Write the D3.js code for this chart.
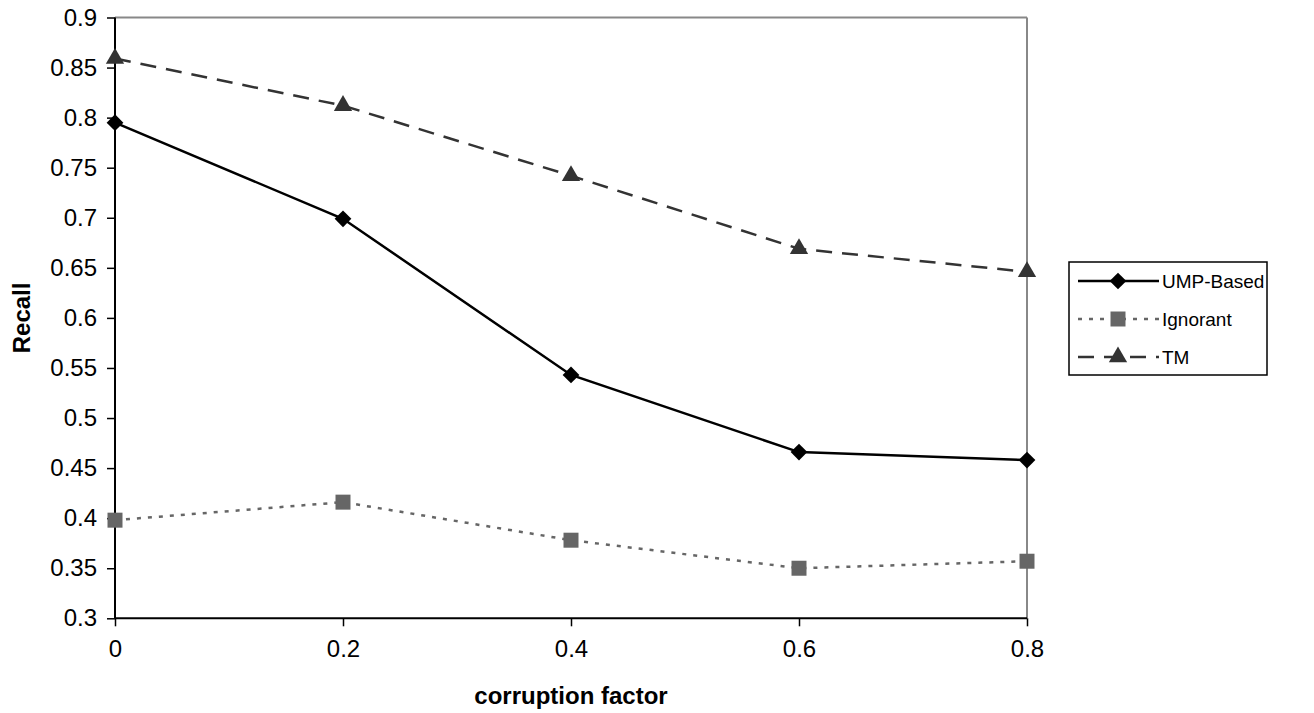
<!DOCTYPE html>
<html>
<head>
<meta charset="utf-8">
<script src="https://cdn.jsdelivr.net/npm/d3@7"></script>
<style>
  html, body { margin: 0; padding: 0; background: #fff; }
  svg { display: block; font-family: "Liberation Sans", Arial, sans-serif; }
</style>
</head>
<body>
<svg id="chart" width="1314" height="713"></svg>
<script>
const xValues = [0, 0.2, 0.4, 0.6, 0.8];
const umpBased = [0.795, 0.699, 0.543, 0.466, 0.458];
const ignorant = [0.398, 0.416, 0.378, 0.350, 0.357];
const tm = [0.859, 0.812, 0.742, 0.669, 0.646];
const yTicks = [0.3, 0.35, 0.4, 0.45, 0.5, 0.55, 0.6, 0.65, 0.7, 0.75, 0.8, 0.85, 0.9];
const xTicks = [0, 0.2, 0.4, 0.6, 0.8];
const seriesNames = ["UMP-Based", "Ignorant", "TM"];

const svg = d3.select("#chart");
const L = 115, R = 1027, T = 17.5, B = 618.3;
const x = d3.scaleLinear().domain([0, 0.8]).range([L, R]);
const y = d3.scaleLinear().domain([0.3, 0.9]).range([B, T]);

// frame (top/right gray)
svg.append("line").attr("x1", L).attr("x2", R).attr("y1", T).attr("y2", T).attr("stroke", "#888").attr("stroke-width", 2);
svg.append("line").attr("x1", R).attr("x2", R).attr("y1", T).attr("y2", B).attr("stroke", "#888").attr("stroke-width", 2);

// axes
const yAxis = d3.axisLeft(y).tickValues(yTicks).tickFormat(d => String(+d.toFixed(2))).tickSize(8).tickPadding(10);
const gy = svg.append("g").attr("transform", `translate(${L},0)`).call(yAxis);
const xAxis = d3.axisBottom(x).tickValues(xTicks).tickFormat(d => String(+d.toFixed(1))).tickSize(8).tickPadding(14);
const gx = svg.append("g").attr("transform", `translate(0,${B})`).call(xAxis);
[gx, gy].forEach(g => {
  g.select(".domain").attr("stroke", "#000").attr("stroke-width", 2);
  g.selectAll(".tick line").attr("stroke", "#000").attr("stroke-width", 1.5);
  g.selectAll("text").attr("font-size", 24).attr("fill", "#000").attr("font-family", "Liberation Sans, Arial, sans-serif");
});
gx.selectAll(".domain").attr("d", `M${L},0H${R}`);
gy.selectAll(".domain").attr("d", `M0,${B}V${T}`);

// axis titles
svg.append("text").attr("x", (L + R) / 2).attr("y", 704).attr("text-anchor", "middle")
  .attr("font-size", 24).attr("font-weight", "bold").text("corruption factor");
svg.append("text").attr("transform", `translate(30,${(T + B) / 2}) rotate(-90)`).attr("text-anchor", "middle")
  .attr("font-size", 24).attr("font-weight", "bold").text("Recall");

const series = [
  { name: seriesNames[0], values: umpBased, color: "#000", dash: null, width: 2.5, sym: d3.symbolSquare, symSize: 140, rot: 45 },
  { name: seriesNames[1], values: ignorant, color: "#666", dash: "4,7", width: 2.5, sym: d3.symbolSquare, symSize: 225, rot: 0 },
  { name: seriesNames[2], values: tm, color: "#333", dash: "16,10", width: 2.5, sym: d3.symbolTriangle, symSize: 145, rot: 0 }
];

const line = d3.line().x((d, i) => x(xValues[i])).y(d => y(d));
series.forEach(s => {
  svg.append("path").datum(s.values).attr("d", line).attr("fill", "none")
    .attr("stroke", s.color).attr("stroke-width", s.width).attr("stroke-dasharray", s.dash);
  svg.selectAll(null).data(s.values).enter().append("path")
    .attr("d", d3.symbol().type(s.sym).size(s.symSize))
    .attr("transform", (d, i) => `translate(${x(xValues[i])},${y(d)}) rotate(${s.rot})`)
    .attr("fill", s.color);
});

// legend
const lg = svg.append("g");
const lx = 1069, ly = 262, rowH = 38;
lg.append("rect").attr("x", lx).attr("y", ly).attr("width", 198).attr("height", 113)
  .attr("fill", "#fff").attr("stroke", "#000").attr("stroke-width", 1.5);
series.forEach((s, i) => {
  const cy = ly + 19 + i * rowH;
  lg.append("line").attr("x1", lx + 9).attr("x2", lx + 90).attr("y1", cy).attr("y2", cy)
    .attr("stroke", s.color).attr("stroke-width", s.width).attr("stroke-dasharray", s.dash);
  lg.append("path").attr("d", d3.symbol().type(s.sym).size(s.symSize))
    .attr("transform", `translate(${lx + 49},${cy}) rotate(${s.rot})`)
    .attr("fill", s.color);
  lg.append("text").attr("x", lx + 93).attr("y", cy).attr("dy", "0.35em")
    .attr("font-size", 19).text(s.name);
});
</script>
</body>
</html>
